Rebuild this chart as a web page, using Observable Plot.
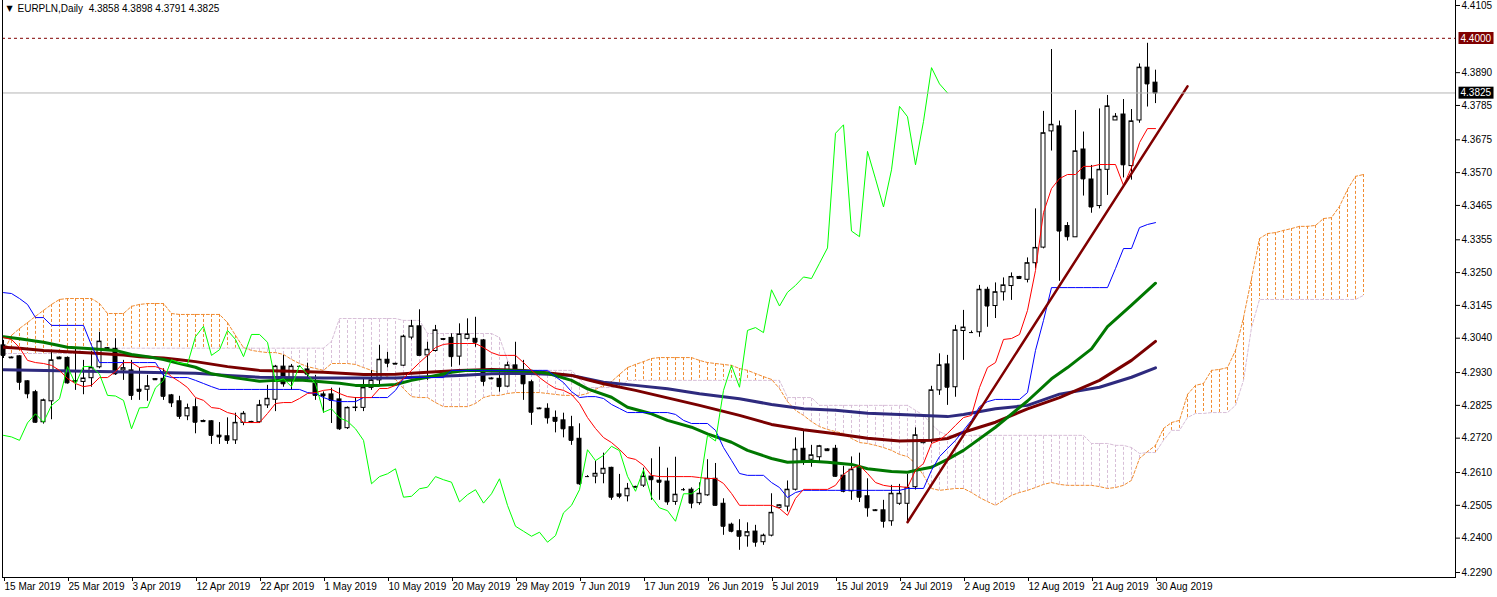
<!DOCTYPE html>
<html><head><meta charset="utf-8">
<script src="https://cdn.jsdelivr.net/npm/d3@7"></script>
<script src="https://cdn.jsdelivr.net/npm/@observablehq/plot@0.6"></script>
<style>body{margin:0;background:#fff}#chart svg{display:block}</style>
</head><body><div id="chart"></div>
<script>
// ---------- DATA ----------
const symbolTitle = "EURPLN,Daily  4.3858 4.3898 4.3791 4.3825";
// x tick labels, one every 8 bars (bar indices below)
const xTickBars = [0,8,16,24,32,40,48,56,64,72,80,88,96,104,112,120,128,136,144];
const xTickLabels = ["15 Mar 2019","25 Mar 2019","3 Apr 2019","12 Apr 2019","22 Apr 2019","1 May 2019","10 May 2019","20 May 2019","29 May 2019","7 Jun 2019","17 Jun 2019","26 Jun 2019","5 Jul 2019","15 Jul 2019","24 Jul 2019","2 Aug 2019","12 Aug 2019","21 Aug 2019","30 Aug 2019"];
const yTickValues = [4.4105,4.3890,4.3785,4.3675,4.3570,4.3465,4.3355,4.3250,4.3145,4.3040,4.2930,4.2825,4.2720,4.2610,4.2505,4.2400,4.2290];

const opens = [4.3017,4.2978,4.2982,4.2902,4.2867,4.2771,4.2838,4.2978,4.2977,4.2903,
4.2900,4.2912,4.2947,4.3008,4.3006,4.2937,4.2937,4.2875,4.2875,4.2909,
4.2910,4.2857,4.2838,4.2790,4.2819,4.2775,4.2774,4.2728,4.2726,4.2713,
4.2769,4.2772,4.2771,4.2825,4.2843,4.2949,4.2907,4.2950,4.2940,4.2894,
4.2860,4.2860,4.2844,4.2752,4.2817,4.2817,4.2881,4.2905,4.2971,4.2958,
4.2952,4.3042,4.3078,4.2985,4.2999,4.3037,4.3041,4.2981,4.3038,4.3038,
4.3033,4.2911,4.2910,4.2885,4.2953,4.2921,4.2899,4.2815,4.2814,4.2785,
4.2777,4.2755,4.2718,4.2597,4.2597,4.2606,4.2625,4.2540,4.2534,4.2564,
4.2568,4.2597,4.2584,4.2581,4.2516,4.2555,4.2555,4.2512,4.2537,4.2590,
4.2510,4.2443,4.2422,4.2406,4.2421,4.2387,4.2408,4.2497,4.2501,4.2555,
4.2686,4.2651,4.2659,4.2684,4.2686,4.2600,4.2550,4.2627,4.2534,4.2489,
4.2489,4.2454,4.2510,4.2510,4.2563,4.2704,4.2713,4.2873,4.2956,4.2883,
4.3063,4.3058,4.3059,4.3195,4.3143,4.3187,4.3207,4.3236,4.3227,4.3280,
4.3330,4.3702,4.3718,4.3399,4.3363,4.3644,4.3548,4.3463,4.3579,4.3737,
4.3756,4.3591,4.3737,4.3906,4.3858];
const highs = [4.3033,4.2980,4.2984,4.2904,4.2873,4.2845,4.2995,4.2980,4.2980,4.3004,
4.2969,4.2998,4.3059,4.3010,4.3038,4.2969,4.2969,4.2945,4.2921,4.2911,
4.2942,4.2860,4.2854,4.2829,4.2846,4.2778,4.2776,4.2770,4.2785,4.2800,
4.2805,4.2774,4.2841,4.2889,4.2953,4.2985,4.2956,4.2952,4.2960,4.2921,
4.2868,4.2880,4.2880,4.2820,4.2850,4.2908,4.2936,4.3017,4.2995,4.2960,
4.3050,4.3097,4.3131,4.3027,4.3081,4.3039,4.3054,4.3086,4.3102,4.3107,
4.3036,4.2913,4.2937,4.2963,4.3027,4.2969,4.2905,4.2817,4.2830,4.2807,
4.2800,4.2790,4.2766,4.2600,4.2646,4.2672,4.2627,4.2604,4.2575,4.2566,
4.2624,4.2654,4.2691,4.2624,4.2659,4.2559,4.2561,4.2577,4.2651,4.2639,
4.2526,4.2448,4.2459,4.2449,4.2441,4.2413,4.2542,4.2507,4.2583,4.2721,
4.2745,4.2697,4.2697,4.2686,4.2697,4.2630,4.2660,4.2672,4.2590,4.2491,
4.2521,4.2569,4.2572,4.2604,4.2753,4.2713,4.2886,4.2990,4.2985,4.3081,
4.3129,4.3063,4.3209,4.3203,4.3217,4.3233,4.3249,4.3238,4.3297,4.3454,
4.3766,4.3964,4.3735,4.3410,4.3769,4.3700,4.3593,4.3774,4.3817,4.3759,
4.3804,4.3772,4.3918,4.3984,4.3898];
const lows = [4.2975,4.2975,4.2873,4.2846,4.2768,4.2765,4.2779,4.2972,4.2893,4.2873,
4.2859,4.2883,4.2942,4.3004,4.2921,4.2905,4.2841,4.2841,4.2838,4.2906,
4.2841,4.2818,4.2780,4.2776,4.2734,4.2772,4.2700,4.2700,4.2700,4.2700,
4.2760,4.2769,4.2767,4.2815,4.2805,4.2883,4.2873,4.2948,4.2905,4.2841,
4.2800,4.2767,4.2745,4.2748,4.2805,4.2805,4.2873,4.2889,4.2945,4.2956,
4.2950,4.3035,4.2985,4.2905,4.2996,4.3034,4.2947,4.2953,4.3035,4.3011,
4.2886,4.2908,4.2867,4.2883,4.2921,4.2841,4.2761,4.2812,4.2765,4.2737,
4.2721,4.2697,4.2569,4.2594,4.2574,4.2574,4.2521,4.2526,4.2516,4.2561,
4.2562,4.2521,4.2521,4.2505,4.2505,4.2550,4.2494,4.2505,4.2534,4.2503,
4.2409,4.2417,4.2361,4.2371,4.2371,4.2377,4.2404,4.2495,4.2484,4.2551,
4.2633,4.2627,4.2643,4.2679,4.2595,4.2545,4.2521,4.2514,4.2467,4.2486,
4.2432,4.2438,4.2505,4.2451,4.2554,4.2702,4.2703,4.2857,4.2825,4.2851,
4.2969,4.3055,4.3043,4.3075,4.3103,4.3159,4.3161,4.3229,4.3217,4.3262,
4.3326,4.3639,4.3222,4.3351,4.3363,4.3495,4.3440,4.3454,4.3497,4.3737,
4.3553,4.3546,4.3728,4.3780,4.3791];
const closes = [4.2985,4.2977,4.2899,4.2862,4.2771,4.2841,4.2969,4.2974,4.2897,4.2901,
4.2911,4.2945,4.3029,4.3006,4.2926,4.2944,4.2857,4.2870,4.2886,4.2907,
4.2854,4.2833,4.2790,4.2816,4.2771,4.2773,4.2729,4.2724,4.2713,4.2769,
4.2798,4.2771,4.2825,4.2846,4.2949,4.2894,4.2949,4.2950,4.2925,4.2857,
4.2855,4.2841,4.2750,4.2817,4.2818,4.2881,4.2905,4.2971,4.2960,4.2957,
4.3045,4.3078,4.2985,4.3003,4.3065,4.3036,4.2981,4.3052,4.3052,4.3027,
4.2902,4.2910,4.2885,4.2953,4.2924,4.2894,4.2803,4.2814,4.2785,4.2774,
4.2750,4.2713,4.2574,4.2597,4.2606,4.2622,4.2531,4.2534,4.2558,4.2563,
4.2597,4.2587,4.2579,4.2516,4.2539,4.2555,4.2512,4.2542,4.2590,4.2505,
4.2438,4.2422,4.2406,4.2419,4.2387,4.2408,4.2481,4.2505,4.2555,4.2683,
4.2648,4.2665,4.2694,4.2680,4.2598,4.2550,4.2619,4.2531,4.2497,4.2488,
4.2454,4.2542,4.2542,4.2561,4.2729,4.2711,4.2873,4.2953,4.2883,4.3065,
4.3074,4.3058,4.3195,4.3143,4.3187,4.3209,4.3236,4.3231,4.3280,4.3329,
4.3696,4.3723,4.3383,4.3365,4.3638,4.3550,4.3460,4.3579,4.3782,4.3749,
4.3595,4.3734,4.3906,4.3854,4.3825];

// Ichimoku (Tenkan 9 / Kijun 26 / Senkou 52), values per bar
const tenkanSen = [4.3042,4.3036,4.3010,4.2969,4.2962,4.2959,4.2953,4.2937,4.2911,4.2895,
4.2885,4.2889,4.2914,4.2914,4.2933,4.2962,4.2962,4.2946,4.2949,4.2949,
4.2940,4.2917,4.2901,4.2882,4.2850,4.2841,4.2818,4.2815,4.2802,4.2796,
4.2770,4.2770,4.2770,4.2799,4.2831,4.2834,4.2834,4.2847,4.2863,4.2866,
4.2873,4.2876,4.2863,4.2853,4.2850,4.2850,4.2850,4.2879,4.2879,4.2889,
4.2911,4.2937,4.2962,4.2985,4.3010,4.3020,4.3023,4.3023,4.3023,4.3023,
4.3010,4.2994,4.2985,4.2985,4.2985,4.2962,4.2937,4.2914,4.2895,4.2879,
4.2873,4.2860,4.2831,4.2786,4.2751,4.2722,4.2706,4.2684,4.2658,4.2652,
4.2633,4.2601,4.2597,4.2597,4.2597,4.2597,4.2597,4.2594,4.2591,4.2591,
4.2575,4.2543,4.2505,4.2505,4.2505,4.2505,4.2505,4.2495,4.2473,4.2527,
4.2556,4.2556,4.2556,4.2556,4.2569,4.2604,4.2623,4.2633,4.2607,4.2578,
4.2569,4.2565,4.2565,4.2562,4.2617,4.2639,4.2703,4.2713,4.2735,4.2761,
4.2786,4.2793,4.2882,4.2946,4.2962,4.3036,4.3039,4.3052,4.3129,4.3257,
4.3442,4.3519,4.3551,4.3564,4.3564,4.3590,4.3590,4.3596,4.3596,4.3596,
4.3529,4.3586,4.3666,4.3711,4.3711];
const kijunSen = [4.3186,4.3183,4.3167,4.3148,4.3106,4.3106,4.3081,4.3081,4.3081,4.3081,
4.3081,4.3017,4.2962,4.2962,4.2962,4.2962,4.2962,4.2962,4.2962,4.2962,
4.2921,4.2914,4.2914,4.2914,4.2905,4.2895,4.2885,4.2876,4.2876,4.2876,
4.2876,4.2876,4.2876,4.2876,4.2876,4.2876,4.2876,4.2876,4.2866,4.2863,
4.2850,4.2841,4.2837,4.2837,4.2837,4.2850,4.2850,4.2850,4.2850,4.2873,
4.2911,4.2914,4.2914,4.2914,4.2914,4.2914,4.2937,4.2937,4.2937,4.2937,
4.2937,4.2937,4.2937,4.2937,4.2937,4.2937,4.2937,4.2937,4.2937,4.2917,
4.2898,4.2869,4.2850,4.2853,4.2853,4.2847,4.2828,4.2815,4.2802,4.2802,
4.2802,4.2802,4.2802,4.2802,4.2796,4.2777,4.2767,4.2767,4.2767,4.2745,
4.2690,4.2649,4.2607,4.2601,4.2601,4.2601,4.2578,4.2562,4.2530,4.2546,
4.2553,4.2553,4.2553,4.2553,4.2553,4.2553,4.2553,4.2553,4.2553,4.2553,
4.2553,4.2553,4.2553,4.2559,4.2559,4.2559,4.2617,4.2661,4.2687,4.2713,
4.2745,4.2777,4.2821,4.2837,4.2844,4.2844,4.2844,4.2844,4.2866,4.3001,
4.3097,4.3202,4.3202,4.3202,4.3202,4.3202,4.3202,4.3202,4.3202,4.3263,
4.3327,4.3327,4.3394,4.3404,4.3410];
// Senkou spans, bars 0..170 (already displaced 26 bars forward)
const senkouSpanA = [4.2994,4.3049,4.3071,4.3090,4.3110,4.3129,4.3148,4.3164,4.3167,4.3167,
4.3167,4.3167,4.3151,4.3119,4.3119,4.3119,4.3142,4.3148,4.3151,4.3151,
4.3151,4.3119,4.3116,4.3116,4.3116,4.3116,4.3116,4.3116,4.3090,4.3049,
4.3010,4.3001,4.2997,4.2994,4.2994,4.2988,4.2972,4.2959,4.2949,4.2943,
4.2937,4.2959,4.2959,4.2959,4.2956,4.2946,4.2937,4.2930,4.2917,4.2908,
4.2879,4.2853,4.2850,4.2850,4.2834,4.2821,4.2821,4.2821,4.2821,4.2831,
4.2850,4.2857,4.2857,4.2863,4.2866,4.2866,4.2866,4.2866,4.2863,4.2860,
4.2857,4.2857,4.2857,4.2863,4.2876,4.2889,4.2901,4.2924,4.2946,4.2956,
4.2965,4.2975,4.2978,4.2978,4.2978,4.2978,4.2978,4.2969,4.2962,4.2959,
4.2956,4.2953,4.2943,4.2937,4.2927,4.2917,4.2908,4.2879,4.2837,4.2809,
4.2793,4.2773,4.2757,4.2748,4.2741,4.2735,4.2719,4.2706,4.2703,4.2697,
4.2690,4.2681,4.2668,4.2661,4.2639,4.2601,4.2559,4.2553,4.2556,4.2559,
4.2559,4.2546,4.2530,4.2517,4.2505,4.2521,4.2537,4.2546,4.2553,4.2562,
4.2572,4.2578,4.2572,4.2569,4.2569,4.2569,4.2569,4.2565,4.2559,4.2562,
4.2569,4.2585,4.2655,4.2677,4.2697,4.2751,4.2770,4.2777,4.2860,4.2889,
4.2895,4.2937,4.2940,4.2946,4.3001,4.3106,4.3231,4.3359,4.3375,4.3378,
4.3385,4.3391,4.3398,4.3398,4.3401,4.3423,4.3426,4.3462,4.3516,4.3558,
4.3564];
const senkouSpanB = [4.2991,4.2991,4.2991,4.2991,4.2991,4.2991,4.2991,4.2991,4.2991,4.2991,
4.3008,4.3008,4.3008,4.3008,4.3008,4.3008,4.3008,4.3008,4.3008,4.3008,
4.3008,4.3008,4.3008,4.3008,4.3008,4.3008,4.3008,4.3008,4.3008,4.3008,
4.3008,4.3008,4.3008,4.3008,4.3008,4.3008,4.3008,4.3008,4.3008,4.3008,
4.3008,4.3030,4.3103,4.3103,4.3103,4.3103,4.3103,4.3103,4.3103,4.3103,
4.3097,4.3097,4.3097,4.3055,4.3055,4.3055,4.3055,4.3055,4.3055,4.3055,
4.3055,4.3055,4.3042,4.2969,4.2937,4.2937,4.2937,4.2937,4.2937,4.2937,
4.2937,4.2937,4.2911,4.2882,4.2882,4.2882,4.2882,4.2882,4.2905,4.2905,
4.2905,4.2905,4.2905,4.2905,4.2905,4.2905,4.2905,4.2905,4.2905,4.2905,
4.2905,4.2905,4.2905,4.2905,4.2905,4.2905,4.2905,4.2905,4.2850,4.2850,
4.2850,4.2850,4.2825,4.2825,4.2825,4.2825,4.2825,4.2825,4.2825,4.2825,
4.2825,4.2825,4.2825,4.2825,4.2809,4.2793,4.2764,4.2741,4.2729,4.2729,
4.2729,4.2729,4.2729,4.2729,4.2729,4.2729,4.2729,4.2729,4.2729,4.2729,
4.2729,4.2729,4.2729,4.2729,4.2729,4.2729,4.2703,4.2703,4.2703,4.2697,
4.2697,4.2690,4.2671,4.2674,4.2674,4.2713,4.2745,4.2745,4.2786,4.2799,
4.2799,4.2802,4.2802,4.2802,4.2825,4.2905,4.3074,4.3164,4.3164,4.3164,
4.3164,4.3164,4.3164,4.3164,4.3164,4.3164,4.3164,4.3164,4.3164,4.3164,
4.3177];
const chikouShift = 26;

// moving averages: [bar, value]
const maGreen = [[0,4.3045],[2,4.3038],[5,4.3027],[8,4.3011],[11,4.3006],[14,4.3001],[16,4.2988],[18,4.2981],[20,4.2972],[22,4.2959],[24,4.2947],[26,4.2926],[29,4.2913],[32,4.2902],[34,4.2905],[37,4.2906],[39,4.2902],[42,4.2896],[44,4.2889],[47,4.2889],[49,4.2892],[51,4.2905],[53,4.2915],[56,4.2931],[58,4.2937],[63,4.2937],[66,4.2934],[68,4.2928],[71,4.2905],[73,4.2878],[76,4.2851],[78,4.2819],[81,4.2798],[83,4.2777],[86,4.2755],[88,4.2734],[91,4.2707],[93,4.2681],[96,4.2655],[98,4.2643],[101,4.2646],[103,4.2643],[106,4.2636],[108,4.2622],[111,4.2613],[113,4.2611],[114,4.2617],[116,4.2627],[118,4.2652],[120,4.2681],[124,4.2755],[128,4.2839],[131,4.2910],[133,4.2946],[136,4.3006],[138,4.3077],[141,4.3146],[144,4.3216]];
const maMaroon = [[0,4.3011],[2,4.3008],[5,4.3001],[8,4.2997],[11,4.2993],[15,4.2986],[17,4.2981],[20,4.2977],[22,4.2971],[24,4.2965],[28,4.2949],[32,4.2937],[36,4.2934],[40,4.2931],[45,4.2924],[49,4.2925],[53,4.2931],[57,4.2937],[61,4.2940],[65,4.2937],[69,4.2926],[71,4.2921],[73,4.2907],[75,4.2894],[79,4.2873],[83,4.2849],[87,4.2825],[92,4.2793],[96,4.2764],[100,4.2747],[104,4.2734],[108,4.2720],[112,4.2711],[116,4.2713],[118,4.2719],[120,4.2739],[124,4.2771],[128,4.2814],[132,4.2850],[137,4.2905],[141,4.2969],[144,4.3030]];
const maNavy = [[0,4.2939],[24,4.2928],[28,4.2921],[32,4.2915],[40,4.2913],[49,4.2913],[53,4.2917],[57,4.2921],[61,4.2926],[65,4.2928],[69,4.2924],[71,4.2921],[75,4.2899],[79,4.2889],[83,4.2878],[87,4.2862],[92,4.2846],[96,4.2828],[100,4.2814],[104,4.2809],[108,4.2800],[112,4.2796],[118,4.2789],[120,4.2796],[124,4.2814],[128,4.2825],[132,4.2861],[137,4.2883],[141,4.2915],[144,4.2945]];
// trend line anchors [bar, price]
const trendLine = [[113,4.2451],[148,4.3846]];
const levelLine = 4.4000;
const bidLine = 4.3825;
const priceBoxes = [{v: 4.4000, label: "4.4000", bg: "#800000"}, {v: 4.3825, label: "4.3825", bg: "#000000"}];

// ---------- BUILD ----------
const C = {orange:"#F08C32", thistle:"#D8BFD8", tenkan:"#FF0000", kijun:"#0000FF", chikou:"#00FF00",
  green:"#007800", maroon:"#7A0000", navy:"#2E2A7E", trend:"#800000"};
const bars = opens.map((o, i) => ({i, open:o, high:highs[i], low:lows[i], close:closes[i]}));
const cloud = senkouSpanA.map((a, i) => ({i, a, b: senkouSpanB[i]}));
const tenkanRows = tenkanSen.map((v, i) => ({i, v}));
const kijunRows = kijunSen.map((v, i) => ({i, v}));
const chikouRows = closes.map((v, i) => ({i: i - chikouShift, v})).filter(d => d.i >= 0);
const labelOf = new Map(xTickBars.map((b, k) => [b, xTickLabels[k]]));
const FONT = "Liberation Sans, Arial, sans-serif";

const chart = Plot.plot({
  width: 1497, height: 597,
  marginLeft: 2, marginRight: 42, marginTop: 0, marginBottom: 20,
  x: {domain: [-0.125, 181.5], axis: null, label: null},
  y: {domain: [4.2274, 4.4121], axis: null, label: null},
  style: {fontFamily: FONT, fontSize: "10px", background: "#fff", color: "#000"},
  marks: [
    // kumo hatch
    Plot.ruleX(cloud, {x: "i", y1: "a", y2: "b", stroke: d => d.a >= d.b ? C.orange : C.thistle, strokeDasharray: "3,2", strokeWidth: 1}),
    Plot.line(cloud, {x: "i", y: "a", stroke: C.orange, strokeDasharray: "3,2", strokeWidth: 1}),
    Plot.line(cloud, {x: "i", y: "b", stroke: C.thistle, strokeDasharray: "3,2", strokeWidth: 1}),
    // candles
    Plot.ruleX(bars, {x: "i", y1: "low", y2: "high", stroke: "#000", strokeWidth: 1}),
    Plot.rect(bars, {x1: d => d.i - 0.25, x2: d => d.i + 0.25, y1: "open", y2: "close",
      fill: d => d.close >= d.open ? "#fff" : "#000", stroke: "#000", strokeWidth: 1}),
    Plot.ruleY(bars, {x1: d => d.i - 0.25, x2: d => d.i + 0.25, y: "close", stroke: "#000", strokeWidth: 1}),
    // moving averages
    Plot.line(maNavy, {x: d => d[0], y: d => d[1], stroke: C.navy, strokeWidth: 3}),
    Plot.line(maMaroon, {x: d => d[0], y: d => d[1], stroke: C.maroon, strokeWidth: 3}),
    Plot.line(maGreen, {x: d => d[0], y: d => d[1], stroke: C.green, strokeWidth: 3}),
    // ichimoku lines
    Plot.line(kijunRows, {x: "i", y: "v", stroke: C.kijun, strokeWidth: 1}),
    Plot.line(tenkanRows, {x: "i", y: "v", stroke: C.tenkan, strokeWidth: 1}),
    Plot.line(chikouRows, {x: "i", y: "v", stroke: C.chikou, strokeWidth: 1}),
    // trend line
    Plot.line(trendLine, {x: d => d[0], y: d => d[1], stroke: C.trend, strokeWidth: 2.5}),
    // price levels
    Plot.ruleY([levelLine], {stroke: "#800000", strokeDasharray: "3,3", strokeWidth: 1}),
    Plot.ruleY([bidLine], {stroke: "#b4b4b4", strokeWidth: 1}),
    // axes
    Plot.axisY(yTickValues, {anchor: "right", label: null, tickSize: 4, tickPadding: 2, tickFormat: d => d.toFixed(4), fontSize: 10, fontFamily: FONT}),
    Plot.axisX(xTickBars, {anchor: "bottom", label: null, tickSize: 4, tickPadding: 1, tickFormat: d => labelOf.get(d), textAnchor: "start", dx: 1, fontSize: 10, fontFamily: FONT}),
    Plot.frame({anchor: "left", stroke: "#000"}),
    Plot.frame({anchor: "right", stroke: "#000"}),
    Plot.frame({anchor: "bottom", stroke: "#000"}),
    // price labels on the axis (boxes added below)
    Plot.text(priceBoxes, {y: "v", text: "label", frameAnchor: "right", textAnchor: "start", dx: 5, fill: "#fff", fontSize: 10, fontFamily: FONT}),
    // title
    Plot.text(["\u25BC"], {frameAnchor: "top-left", dx: 4, dy: 5, textAnchor: "start", lineAnchor: "top", fontSize: 8, fontFamily: "DejaVu Sans"}),
    Plot.text([symbolTitle], {frameAnchor: "top-left", dx: 15, dy: 4, textAnchor: "start", lineAnchor: "top", fontSize: 10, fontFamily: FONT})
  ]
});
document.getElementById("chart").append(chart);

// background boxes behind the axis price labels
const bgOf = new Map(priceBoxes.map(p => [p.label, p.bg]));
Array.from(chart.querySelectorAll("text")).forEach(t => {
  const fillAttr = (t.getAttribute("fill") || (t.parentNode && t.parentNode.getAttribute && t.parentNode.getAttribute("fill")) || "").toLowerCase();
  if (!bgOf.has(t.textContent) || (fillAttr !== "#fff" && fillAttr !== "white")) return;
  const b = t.getBBox();
  const r = document.createElementNS("http://www.w3.org/2000/svg", "rect");
  r.setAttribute("x", b.x - 2); r.setAttribute("y", b.y - 0.5);
  r.setAttribute("width", b.width + 4); r.setAttribute("height", b.height + 1);
  r.setAttribute("fill", bgOf.get(t.textContent));
  if (t.getAttribute("transform")) r.setAttribute("transform", t.getAttribute("transform"));
  t.parentNode.insertBefore(r, t);
});
</script>
</body></html>
